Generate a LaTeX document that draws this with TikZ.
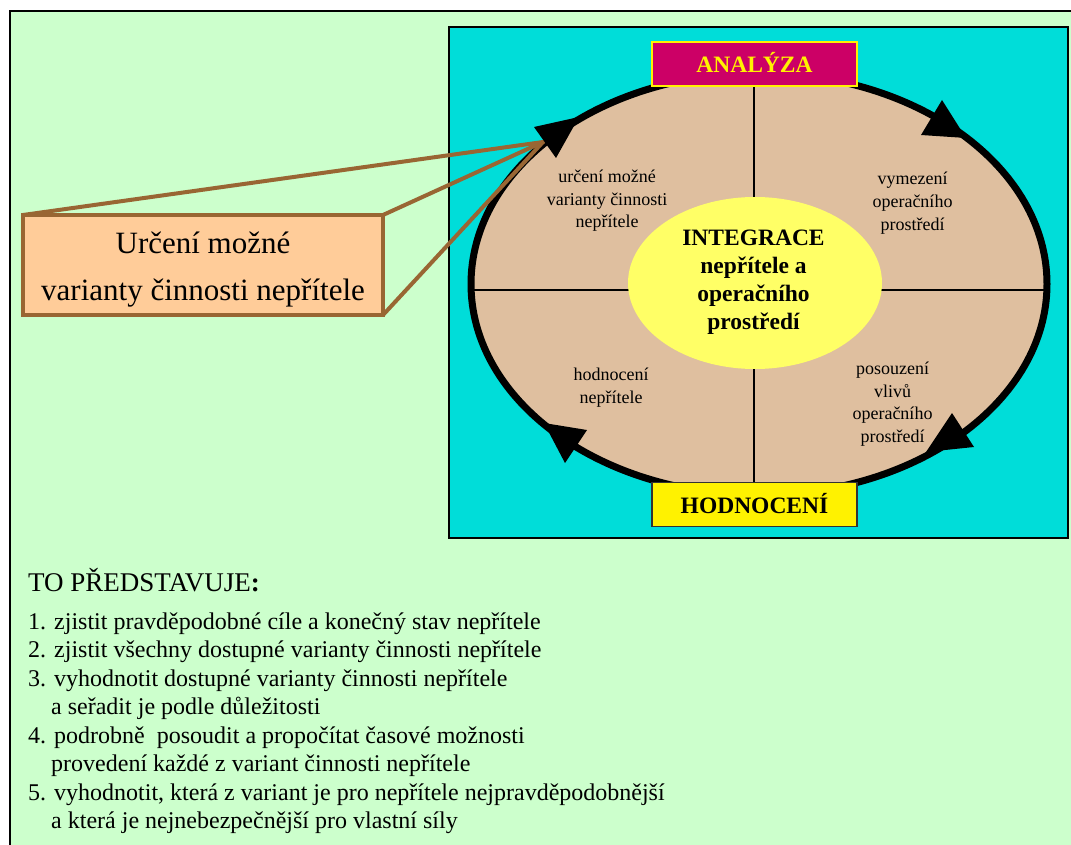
\documentclass[tikz,border=0pt]{standalone}
\usepackage{fontspec}
\setmainfont{Liberation Serif}
\definecolor{bggreen}{HTML}{CCFFCC}
\definecolor{panelcyan}{HTML}{00DDD9}
\definecolor{tan}{HTML}{DFBF9F}
\definecolor{lightyellow}{HTML}{FFFF66}
\definecolor{brownline}{HTML}{996633}
\definecolor{calloutfill}{HTML}{FFCC99}
\definecolor{magentabox}{HTML}{CC0066}
\begin{document}
\begin{tikzpicture}[x=1pt,y=-1pt,
  quadtext/.style={font=\fontsize{18}{22.5}\selectfont, align=center, inner sep=0pt, anchor=base},
  centertext/.style={font=\bfseries\fontsize{23.5}{28}\selectfont, align=center, inner sep=0pt, anchor=base},
  phasebox/.style={minimum width=205pt, minimum height=44pt, inner sep=0pt, outer sep=0pt,
    font=\bfseries\fontsize{23.5}{28}\selectfont, text height=17pt, text depth=0pt, line width=1.5pt},
  arrowtri/.style={fill=black},
  divider/.style={line width=2.5pt, black},
  callline/.style={line width=4pt, brownline, line cap=round},
  listline/.style={font=\fontsize{24}{28.4}\selectfont, inner sep=0pt, anchor=base west}]
\useasboundingbox (0,0) rectangle (1071,845);
\clip (0,0) rectangle (1071,845);
% background
\fill[white] (0,0) rectangle (1071,845);
\draw[fill=bggreen, line width=2pt] (9.5,11) rectangle (1100,900);
% panel
\draw[fill=panelcyan, line width=2.5pt] (449,27) rectangle (1068,538);
% cycle ellipse
\draw[fill=tan, line width=7pt] (759,284) ellipse [x radius=288, y radius=211];
\draw[divider] (754,75) -- (754,493);
\draw[divider] (471,290) -- (1047,290);
% centre ellipse
\fill[lightyellow] (755,283) ellipse [x radius=127, y radius=86];
\node[centertext] (integ) at (753.5,329) {INTEGRACE\\nepřítele a\\operačního\\prostředí};
% quadrant texts
\node[quadtext] (q1) at (607,228) {určení možné\\varianty činnosti\\nepřítele};
\node[quadtext] (q2) at (912.5,230) {vymezení\\operačního\\prostředí};
\node[quadtext] (q3) at (611,403) {hodnocení\\nepřítele};
\node[quadtext] (q4) at (892.5,442) {posouzení\\vlivů\\operačního\\prostředí};
% phase boxes
\node[phasebox, draw=yellow, fill=magentabox, text=yellow] (analyza) at (754.5,64) {ANALÝZA};
\node[phasebox, draw=black!80, fill=yellow, text=black] (hodnoceni) at (754.5,504.5) {HODNOCENÍ};
% callout
\coordinate (focus) at (543,142);
\draw[callline] (23,215) -- (focus);
\draw[callline] (383,215) -- (focus);
\draw[callline] (383,315) -- (focus);
\node[draw=brownline, fill=calloutfill, line width=4pt, minimum width=360pt, minimum height=100pt,
  inner sep=0pt, outer sep=0pt] (callout) at (203,265) {};
\node[font=\fontsize{31}{47}\selectfont, align=center, inner sep=0pt, anchor=base] (callouttext)
  at (203,300) {Určení možné\\varianty činnosti nepřítele};
% arrowheads
\fill[arrowtri] (534,127) -- (579,117) -- (556,158) -- cycle;
\fill[arrowtri] (942,100) -- (966,138) -- (921,135) -- cycle;
\fill[arrowtri] (952,413) -- (974,447) -- (926,452) -- cycle;
\fill[arrowtri] (587,430) -- (565,463) -- (544,423) -- cycle;
% bottom list
\node[font=\fontsize{27}{30}\selectfont, inner sep=0pt, anchor=base west] (title) at (28,591) {TO PŘEDSTAVUJE\textbf{:}};
\node[listline] (l1) at (28,629) {1. zjistit pravděpodobné cíle a konečný stav nepřítele};
\node[listline] (l2) at (28,657.5) {2. zjistit všechny dostupné varianty činnosti nepřítele};
\node[listline] (l3) at (28,686) {3. vyhodnotit dostupné varianty činnosti nepřítele};
\node[listline] (l3b) at (51,714.5) {a seřadit je podle důležitosti};
\node[listline] (l4) at (28,743) {4. podrobně\ \ posoudit a propočítat časové možnosti};
\node[listline] (l4b) at (51,771.5) {provedení každé z variant činnosti nepřítele};
\node[listline] (l5) at (28,800) {5. vyhodnotit, která z variant je pro nepřítele nejpravděpodobnější};
\node[listline] (l5b) at (51,828) {a která je nejnebezpečnější pro vlastní síly};
\end{tikzpicture}
\end{document}
